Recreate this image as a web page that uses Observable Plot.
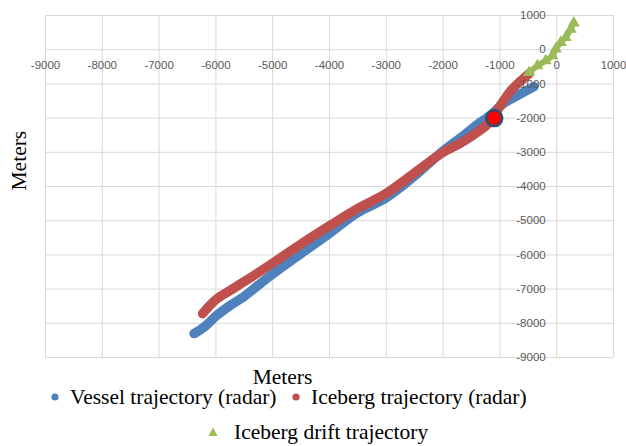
<!DOCTYPE html>
<html>
<head>
<meta charset="utf-8">
<script src="https://cdn.jsdelivr.net/npm/d3@7"></script>
<script src="https://cdn.jsdelivr.net/npm/@observablehq/plot@0.6"></script>
<style>
  html, body { margin: 0; padding: 0; background: #fff; }
  #wrap { position: relative; width: 626px; height: 446px; overflow: hidden; }
  #chart { position: absolute; left: 0; top: 0; }
  #legend { position: absolute; left: 0; top: 386px; width: 626px; height: 60px; }
  .lg { position: absolute; font-family: "Liberation Serif", "Times New Roman", serif; font-size: 21.5px; line-height: 24px; color: #000; white-space: nowrap; }
  .mk { position: absolute; }
</style>
</head>
<body>
<div id="wrap">
  <div id="chart"></div>
  <div id="legend"></div>
</div>
<script>
// Axis ticks
const xTicks = [-9000, -8000, -7000, -6000, -5000, -4000, -3000, -2000, -1000, 0, 1000];
const yTicks = [1000, 0, -1000, -2000, -3000, -4000, -5000, -6000, -7000, -8000, -9000];

// Vessel trajectory (radar) - blue
const vesselX = [-6384, -6200, -6000, -5750, -5500, -5250, -5000, -4500, -4000, -3500, -3000, -2500, -2000, -1680, -1360, -1150, -954, -690, -400];
const vesselY = [-8300, -8100, -7790, -7480, -7210, -6880, -6560, -5960, -5370, -4760, -4330, -3690, -2960, -2560, -2140, -1900, -1590, -1340, -1080];

// Iceberg trajectory (radar) - red
const icebergX = [-6236, -6000, -5750, -5500, -5000, -4500, -4000, -3500, -3000, -2500, -2000, -1680, -1360, -1200, -1020, -808, -632, -480];
const icebergY = [-7720, -7310, -7040, -6780, -6240, -5680, -5150, -4640, -4200, -3600, -3000, -2720, -2370, -2150, -1700, -1200, -910, -690];

// Iceberg drift trajectory - green
const driftX = [-487, -340, -194, -76, -18, 70, 158, 246, 300];
const driftY = [-664, -470, -320, -180, 20, 210, 360, 600, 780];

// Marked point
const markX = [-1100];
const markY = [-2000];

const vessel = vesselX.map((x, i) => ({x, y: vesselY[i]}));
const iceberg = icebergX.map((x, i) => ({x, y: icebergY[i]}));
const drift = driftX.map((x, i) => ({x, y: driftY[i]}));
const mark = markX.map((x, i) => ({x, y: markY[i]}));

const blue = "#4F81BD", red = "#C0504D", green = "#9BBB59";
const tickFont = {fontFamily: "Liberation Sans, Arial, sans-serif", fontSize: 11.5, fill: "#595959"};

const chart = Plot.plot({
  width: 626,
  height: 396,
  marginLeft: 45,
  marginRight: 13,
  marginTop: 15,
  marginBottom: 39,
  x: {domain: [-9000, 1000], axis: null},
  y: {domain: [-9000, 1000], axis: null},
  style: {background: "transparent"},
  marks: [
    Plot.gridX(xTicks, {stroke: "#D9D9D9", strokeOpacity: 1, strokeWidth: 1}),
    Plot.gridY(yTicks, {stroke: "#D9D9D9", strokeOpacity: 1, strokeWidth: 1}),
    Plot.line(vessel, {x: "x", y: "y", stroke: blue, strokeWidth: 9.5, strokeLinecap: "round", strokeLinejoin: "round", curve: "catmull-rom"}),
    Plot.line(iceberg, {x: "x", y: "y", stroke: red, strokeWidth: 9.5, strokeLinecap: "round", strokeLinejoin: "round", curve: "catmull-rom"}),
    Plot.line(drift, {x: "x", y: "y", stroke: green, strokeWidth: 6, strokeLinecap: "round", strokeLinejoin: "round"}),
    Plot.dot(drift, {x: "x", y: "y", symbol: "triangle", r: 4.5, fill: green, stroke: "none"}),
    Plot.dot(mark, {x: "x", y: "y", r: 8, fill: "#FF0000", stroke: "#2C4D75", strokeWidth: 2.5}),
    Plot.text(xTicks, {x: d => d, y: () => 0, text: d => String(d), dy: 16, textAnchor: "middle", ...tickFont}),
    Plot.text(yTicks, {x: () => 0, y: d => d, text: d => String(d), dx: -11, textAnchor: "end", ...tickFont}),
    Plot.text(["Meters"], {frameAnchor: "bottom", text: d => d, dx: -47, dy: 20, lineAnchor: "middle",
      fontFamily: "Liberation Serif, Times New Roman, serif", fontSize: 21.5, fill: "#000"}),
    Plot.text(["Meters"], {frameAnchor: "left", text: d => d, rotate: -90, dx: -26, dy: 4, lineAnchor: "middle",
      fontFamily: "Liberation Serif, Times New Roman, serif", fontSize: 21.5, fill: "#000"})
  ]
});
document.getElementById("chart").appendChild(chart);

// Legend
const legendItems = [
  {label: "Vessel trajectory (radar)", color: blue, shape: "circle", mx: 55, tx: 70, cy: 11},
  {label: "Iceberg trajectory (radar)", color: red, shape: "circle", mx: 296, tx: 311, cy: 11},
  {label: "Iceberg drift trajectory", color: green, shape: "triangle", mx: 213, tx: 234, cy: 46}
];
const legend = document.getElementById("legend");
for (const it of legendItems) {
  const m = document.createElementNS("http://www.w3.org/2000/svg", "svg");
  m.setAttribute("width", 12); m.setAttribute("height", 12);
  m.setAttribute("class", "mk");
  m.style.left = (it.mx - 6) + "px"; m.style.top = (it.cy - 6) + "px";
  if (it.shape === "circle") {
    m.innerHTML = `<circle cx="6" cy="6" r="3.6" fill="${it.color}"/>`;
  } else {
    m.innerHTML = `<polygon points="6,1.5 10.5,10 1.5,10" fill="${it.color}"/>`;
  }
  legend.appendChild(m);
  const t = document.createElement("div");
  t.className = "lg";
  t.textContent = it.label;
  t.style.left = it.tx + "px";
  t.style.top = (it.cy - 12) + "px";
  legend.appendChild(t);
}
</script>
</body>
</html>
